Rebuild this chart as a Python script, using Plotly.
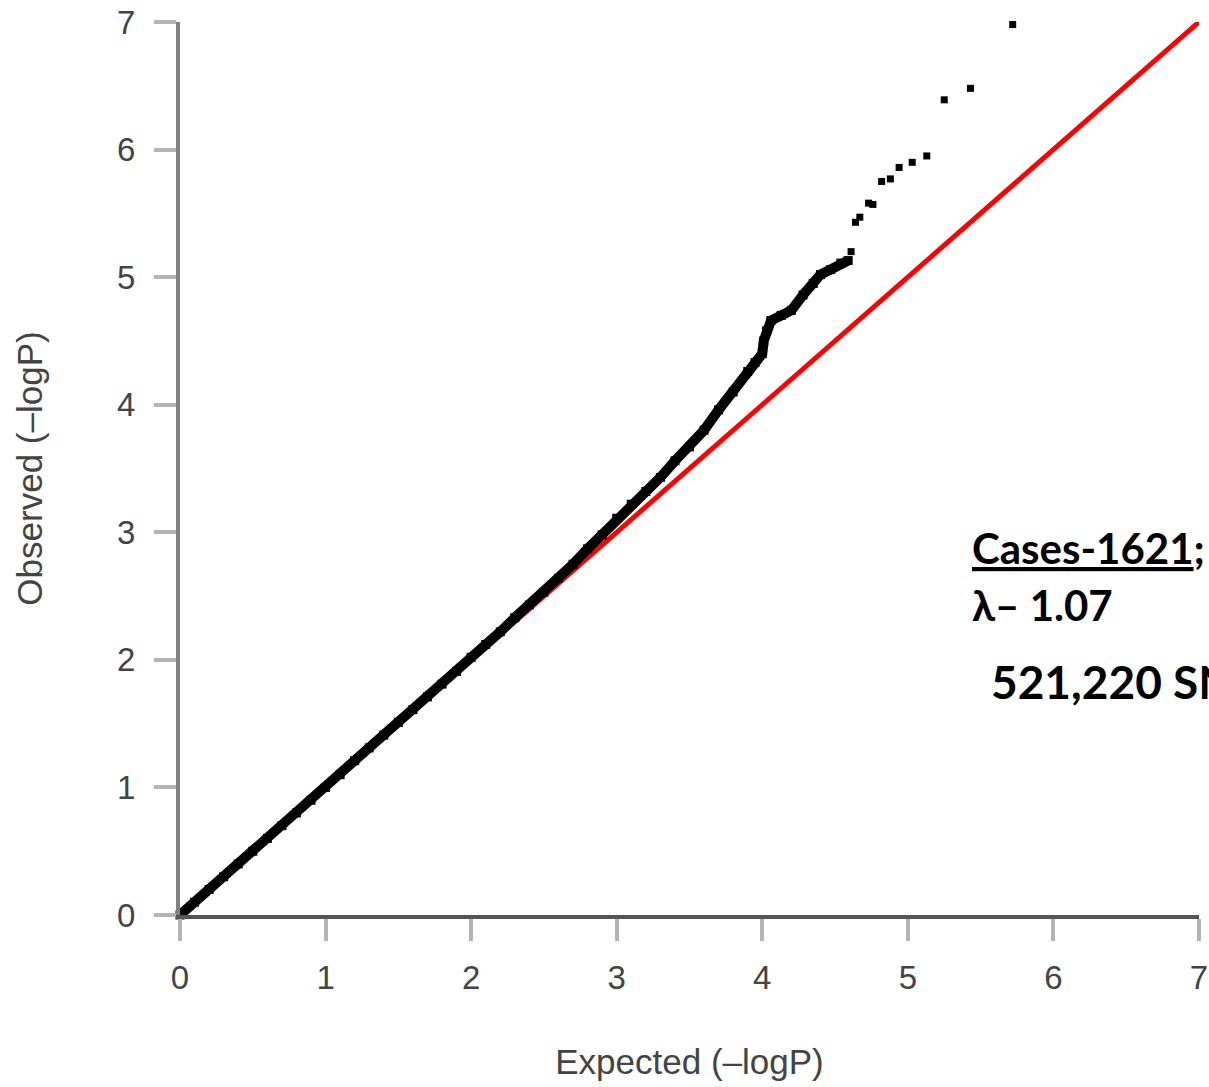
import plotly.graph_objects as go

# Dense part of the QQ curve (expected vs observed -log10 P)
expected_dense = [0.00, 0.10, 0.20, 0.30, 0.40, 0.50, 0.60, 0.70, 0.80, 0.90,
                  1.00, 1.10, 1.20, 1.30, 1.40, 1.50, 1.60, 1.70, 1.80, 1.90,
                  2.00, 2.10, 2.20, 2.30, 2.40, 2.50, 2.60, 2.70, 2.80, 2.90,
                  3.00, 3.10, 3.20, 3.30, 3.40, 3.50, 3.60, 3.70, 3.80, 3.90,
                  3.95, 4.00, 4.01, 4.03, 4.06, 4.13, 4.20, 4.28, 4.35, 4.40,
                  4.47, 4.54, 4.59]
observed_dense = [0.00, 0.10, 0.20, 0.30, 0.40, 0.50, 0.60, 0.70, 0.80, 0.90,
                  1.00, 1.10, 1.21, 1.31, 1.41, 1.51, 1.61, 1.71, 1.81, 1.91,
                  2.02, 2.12, 2.22, 2.33, 2.43, 2.53, 2.64, 2.75, 2.87, 2.98,
                  3.11, 3.22, 3.32, 3.43, 3.56, 3.67, 3.80, 3.96, 4.10, 4.26,
                  4.33, 4.40, 4.50, 4.58, 4.66, 4.70, 4.74, 4.86, 4.95, 5.02,
                  5.06, 5.11, 5.13]

# Isolated top points
expected_tail = [4.61, 4.64, 4.67, 4.73, 4.76, 4.82, 4.88, 4.94, 5.03, 5.13, 5.25, 5.43, 5.72]
observed_tail = [5.20, 5.43, 5.47, 5.58, 5.57, 5.75, 5.77, 5.86, 5.90, 5.95, 6.39, 6.48, 6.98]

# Reference line y = x
ref_x = [0, 7]
ref_y = [0, 7]

tick_vals = [0, 1, 2, 3, 4, 5, 6, 7]
tick_text = ["0", "1", "2", "3", "4", "5", "6", "7"]

x_title = "Expected (–logP)"
y_title = "Observed (–logP)"
note_cases = "<u>Cases-1621</u>;"
note_lambda = "λ– 1.07"
note_snps = "521,220 SNPs"

fig = go.Figure()
fig.add_trace(go.Scatter(x=ref_x, y=ref_y, mode="lines",
                         line=dict(color="#ff0000", width=5), showlegend=False,
                         cliponaxis=False))
fig.add_trace(go.Scatter(x=expected_dense, y=observed_dense, mode="lines+markers",
                         line=dict(color="black", width=10),
                         marker=dict(color="black", size=9, symbol="square"),
                         showlegend=False, cliponaxis=False))
fig.add_trace(go.Scatter(x=expected_tail, y=observed_tail, mode="markers",
                         marker=dict(color="black", size=7, symbol="square"),
                         showlegend=False, cliponaxis=False))

axis_common = dict(
    range=[0, 7], tickvals=tick_vals, ticktext=tick_text,
    showgrid=False, zeroline=False, showline=True, automargin=False,
    ticks="outside", ticklen=22, tickwidth=4, tickcolor="#b4b4b4",
    tickfont=dict(family="Liberation Sans, Arial, sans-serif", size=33, color="#444444"),
    title_font=dict(family="Liberation Sans, Arial, sans-serif", size=35, color="#444444"),
)

fig.update_layout(
    width=1209, height=1087,
    margin=dict(l=180, r=10, t=22, b=172, autoexpand=False),
    paper_bgcolor="white", plot_bgcolor="white",
    xaxis=dict(**axis_common, linecolor="#555555", linewidth=4,
               title=dict(text=x_title, standoff=56), ticklabelstandoff=8),
    yaxis=dict(**axis_common, linecolor="#808080", linewidth=4,
               title=dict(text=y_title, standoff=65), ticklabelstandoff=12),
)

ann_font = dict(family="Lato, Open Sans, sans-serif", size=42, color="black", weight="bold")
fig.add_annotation(text=note_cases, xref="paper", yref="paper", x=0.775, y=0.411,
                   xanchor="left", yanchor="middle", showarrow=False, font=ann_font)
fig.add_annotation(text=note_lambda, xref="paper", yref="paper", x=0.775, y=0.347,
                   xanchor="left", yanchor="middle", showarrow=False, font=ann_font)
fig.add_annotation(text=note_snps, xref="paper", yref="paper", x=0.794, y=0.262,
                   xanchor="left", yanchor="middle", showarrow=False,
                   font=dict(family="Lato, Open Sans, sans-serif", size=46, color="black", weight="bold"))

fig.write_html("out.html")
